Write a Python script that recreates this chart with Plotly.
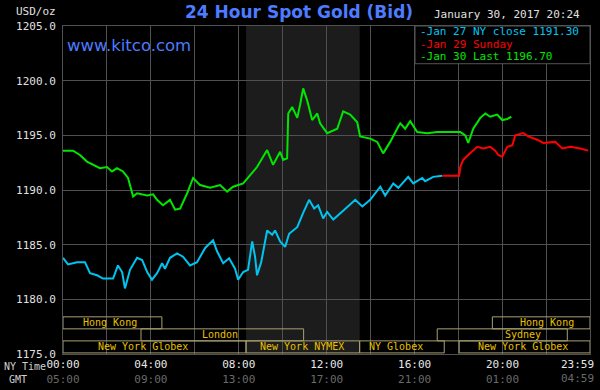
import plotly.graph_objects as go

# ---------------- data ----------------
ny_hours = [0, 0.23, 0.64, 1.0, 1.23, 1.55, 1.82, 2.28, 2.5, 2.69, 2.82, 3.05, 3.37, 3.6, 3.83, 4.05,
            4.28, 4.51, 4.64, 4.87, 5.19, 5.46, 5.78, 6.10, 6.47, 6.83, 7.01, 7.29, 7.56, 7.83, 7.97,
            8.20, 8.42, 8.61, 8.74, 8.83, 9.02, 9.29, 9.52, 9.65, 9.88, 10.11, 10.29, 10.66, 10.93,
            11.2, 11.43, 11.61, 11.84, 12.02, 12.3, 12.61, 12.75, 13.3, 13.62, 13.98, 14.44, 14.66,
            15.03, 15.26, 15.71, 15.94, 16.35, 16.48, 16.85, 17.26]
ny_close = [1183.8, 1183.2, 1183.4, 1183.4, 1182.4, 1182.2, 1181.9, 1181.9, 1183.1, 1182.5, 1181.0,
            1182.7, 1183.8, 1183.6, 1182.5, 1181.8, 1182.4, 1183.3, 1182.8, 1183.8, 1184.2, 1183.9,
            1183.1, 1183.4, 1184.7, 1185.4, 1184.4, 1183.3, 1183.75, 1182.8, 1181.8, 1182.5, 1182.7,
            1185.3, 1183.9, 1182.2, 1183.4, 1186.3, 1185.9, 1186.3, 1185.3, 1184.8, 1186.0, 1186.6,
            1187.9, 1189.1, 1188.3, 1188.6, 1187.4, 1188.0, 1187.3, 1187.9, 1188.1, 1189.1, 1188.5,
            1189.1, 1190.3, 1189.5, 1190.6, 1190.2, 1191.2, 1190.6, 1191.1, 1190.8, 1191.2, 1191.3]

sun_hours = [17.26, 18.03, 18.08, 18.21, 18.44, 18.85, 19.13, 19.44, 19.67, 19.81, 19.99, 20.22,
             20.45, 20.58, 20.95, 21.17, 21.58, 21.86, 22.4, 22.72, 23.09, 23.54, 23.9]
sunday = [1191.3, 1191.3, 1192.1, 1192.75, 1193.2, 1193.95, 1193.8, 1193.95, 1193.6, 1193.2, 1193.05,
          1193.95, 1194.1, 1195.0, 1195.2, 1194.9, 1194.6, 1194.3, 1194.4, 1193.8, 1193.95, 1193.8, 1193.6]

last_hours = [0, 0.46, 0.77, 1.09, 1.68, 2.0, 2.23, 2.46, 2.73, 2.96, 3.19, 3.37, 3.83, 4.1, 4.28, 4.55,
              4.87, 5.1, 5.33, 5.65, 5.92, 6.15, 6.24, 6.69, 7.15, 7.47, 7.74, 8.2, 8.52, 8.83, 9.29,
              9.56, 9.88, 10.02, 10.2, 10.25, 10.43, 10.66, 10.79, 10.93, 11.11, 11.34, 11.57, 11.7,
              12.02, 12.48, 12.75, 13.07, 13.39, 13.52, 13.98, 14.3, 14.57, 14.89, 15.26, 15.35, 15.57,
              15.8, 16.12, 16.58, 17.03, 18.08, 18.31, 18.44, 18.67, 18.99, 19.22, 19.44, 19.76, 19.99,
              20.22, 20.4]
last = [1193.6, 1193.6, 1193.2, 1192.6, 1192.0, 1192.1, 1191.7, 1192.0, 1191.7, 1191.1, 1189.4, 1189.7,
        1189.5, 1189.6, 1189.1, 1188.6, 1189.1, 1188.2, 1188.3, 1189.7, 1191.1, 1190.6, 1190.45, 1190.2,
        1190.45, 1189.85, 1190.3, 1190.6, 1191.4, 1192.1, 1193.65, 1192.3, 1193.5, 1192.75, 1192.9,
        1197.0, 1197.6, 1196.6, 1197.8, 1199.3, 1198.2, 1196.4, 1197.0, 1196.1, 1195.2, 1195.6, 1197.2,
        1196.9, 1196.2, 1194.9, 1194.7, 1194.4, 1193.35, 1194.4, 1195.8, 1196.1, 1195.6, 1196.3, 1195.3,
        1195.2, 1195.3, 1195.3, 1195.0, 1194.3, 1195.6, 1196.6, 1197.0, 1196.7, 1196.9, 1196.4, 1196.5,
        1196.7]

series_names = ["-Jan 27 NY close 1191.30", "-Jan 29 Sunday", "-Jan 30 Last 1196.70"]
series_colors = ["#00c4f0", "#ff0000", "#00e600"]

tick_hours = [0, 4, 8, 12, 16, 20]
tick_ny = ["00:00", "04:00", "08:00", "12:00", "16:00", "20:00"]
tick_gmt = ["05:00", "09:00", "13:00", "17:00", "21:00", "01:00"]
end_hour = 23.983
end_ny, end_gmt = "23:59", "04:59"

nymex_start, nymex_end = 8.33, 13.5

sess_names = ["Hong Kong", "London", "New York Globex", "New York NYMEX", "NY Globex",
              "New York Globex", "Sydney", "Hong Kong"]
sess_start = [0, 3.55, 0, 8.33, 13.5, 18.03, 17.03, 19.54]
sess_end = [4.5, 10.95, 8.33, 13.5, 17.35, 23.983, 22.95, 23.983]
sess_label_x = [2.14, 7.15, 3.64, 10.88, 15.16, 20.95, 20.95, 22.04]
sess_row = [0, 1, 2, 2, 2, 2, 1, 0]
row_bounds = [(1177.3, 1178.4), (1176.2, 1177.3), (1175.1, 1176.2)]

MONO = "DejaVu Sans Mono"

fig = go.Figure()
fig.add_trace(go.Scatter(x=ny_hours, y=ny_close, mode="lines",
                         line=dict(color=series_colors[0], width=2), hoverinfo="skip"))
fig.add_trace(go.Scatter(x=sun_hours, y=sunday, mode="lines",
                         line=dict(color=series_colors[1], width=2), hoverinfo="skip"))
fig.add_trace(go.Scatter(x=last_hours, y=last, mode="lines",
                         line=dict(color=series_colors[2], width=2), hoverinfo="skip"))

shapes = []
annotations = []

# NYMEX shaded region
shapes.append(dict(type="rect", xref="x", yref="paper", x0=nymex_start, x1=nymex_end, y0=0, y1=1,
                   fillcolor="#1c1c1c", line=dict(width=0), layer="below"))

# session boxes
for name, s, e, lx, r in zip(sess_names, sess_start, sess_end, sess_label_x, sess_row):
    y0, y1 = row_bounds[r]
    shapes.append(dict(type="rect", xref="x", yref="y", x0=s, x1=e, y0=y0, y1=y1,
                       line=dict(color="#a8a070", width=1), fillcolor="rgba(0,0,0,0)", layer="above"))
    annotations.append(dict(x=lx, y=(y0 + y1) / 2, xref="x", yref="y", text=name,
                            showarrow=False, font=dict(family=MONO, size=10, color="#e8c000"),
                            xanchor="center", yanchor="middle"))

# legend box
shapes.append(dict(type="rect", xref="paper", yref="paper", x0=0.668, x1=1.0, y0=0.885, y1=1.0,
                   fillcolor="#000000", line=dict(color="#555555", width=1), layer="above"))
for i, (nm, col) in enumerate(zip(series_names, series_colors)):
    annotations.append(dict(x=0.676, y=0.9835 - i * 0.0387, xref="paper", yref="paper", text=nm,
                            showarrow=False, xanchor="left", yanchor="middle",
                            borderpad=0, font=dict(family=MONO, size=11, color=col)))

annotations += [
    dict(x=0.448, y=1.0, xref="paper", yref="paper", yshift=2, text="24 Hour Spot Gold (Bid)",
         showarrow=False, xanchor="center", yanchor="bottom",
         font=dict(family="DejaVu Sans", size=17, color="#4c7cff", weight="bold")),
    dict(x=0.003, y=0.94, xref="paper", yref="paper", text="www.kitco.com",
         showarrow=False, xanchor="left", yanchor="middle",
         font=dict(family="DejaVu Sans", size=16.5, color="#4c7cff")),
    dict(x=0.985, y=1.0, xref="paper", yref="paper", yshift=3, text="January 30, 2017 20:24",
         showarrow=False, xanchor="right", yanchor="bottom",
         font=dict(family=MONO, size=11, color="#e0e0e0")),
    dict(x=-0.01, y=1.0, xref="paper", yref="paper", yshift=6, text="USD/oz",
         showarrow=False, xanchor="right", yanchor="bottom",
         font=dict(family=MONO, size=11, color="#e0e0e0")),
    dict(x=-0.1139, y=0, xref="paper", yref="paper", yshift=-12, text="NY Time",
         showarrow=False, xanchor="left", yanchor="middle", borderpad=0,
         font=dict(family=MONO, size=10, color="#d0d0d0")),
    dict(x=-0.065, y=0, xref="paper", yref="paper", yshift=-25, text="GMT",
         showarrow=False, xanchor="right", yanchor="middle",
         font=dict(family=MONO, size=10, color="#d0d0d0")),
    # last (23:59) tick label, right-aligned at the chart edge
    dict(x=end_hour, y=0, xref="x", yref="paper", xshift=6, yshift=-10, text=end_ny,
         showarrow=False, xanchor="right", yanchor="middle",
         font=dict(family=MONO, size=11, color="#e8e8e8")),
    dict(x=end_hour, y=0, xref="x", yref="paper", xshift=6, yshift=-24, text=end_gmt,
         showarrow=False, xanchor="right", yanchor="middle",
         font=dict(family=MONO, size=11, color="#6a6a6a")),
]

ticktext = [f"{a}<br><span style='color:#6a6a6a'>{b}</span>" for a, b in zip(tick_ny, tick_gmt)]

fig.update_layout(
    width=600, height=390,
    margin=dict(l=63, r=10, t=26, b=36, autoexpand=False),
    paper_bgcolor="#000000", plot_bgcolor="#000000",
    showlegend=False,
    shapes=shapes, annotations=annotations,
    xaxis=dict(range=[0, end_hour], tickvals=tick_hours, ticktext=ticktext,
               showgrid=True, gridcolor="#505050", gridwidth=1,
               minor=dict(dtick=2, tick0=0, showgrid=True, gridcolor="#505050", gridwidth=1),
               zeroline=False, showline=True, linecolor="#505050", mirror=True,
               tickfont=dict(family=MONO, size=11, color="#e8e8e8"), ticks="", fixedrange=True),
    yaxis=dict(range=[1175, 1205], dtick=5, tick0=1175, tickformat=".1f",
               showgrid=True, gridcolor="#505050", gridwidth=1,
               zeroline=False, showline=True, linecolor="#505050", mirror=True,
               ticks="", ticklabelstandoff=4,
               tickfont=dict(family=MONO, size=11, color="#e0e0e0"), fixedrange=True),
)

fig.write_html("out.html", config={"displayModeBar": False},
               post_script="document.body.style.margin='0';document.body.style.padding='0';"
                           "document.body.style.background='#000';")
